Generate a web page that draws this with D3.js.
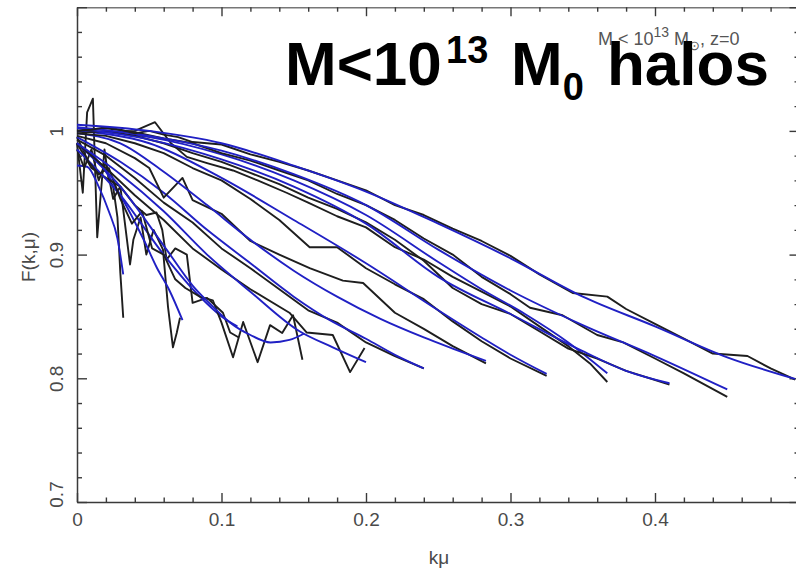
<!DOCTYPE html>
<html><head><meta charset="utf-8">
<script src="https://cdn.jsdelivr.net/npm/d3@7"></script>
<style>html,body{margin:0;padding:0;background:#fff;overflow:hidden}svg{display:block}</style>
</head><body>
<svg id="c" width="796" height="570"></svg>
<script>
// ---- data: [kmu, F] pairs, black = simulation, blue = model ----
const sim1 = [[0,0.99],[0.004,0.95],[0.007,1.015],[0.011,1.026],[0.014,0.914],[0.019,0.985],[0.022,0.96],[0.025,0.955],[0.028,0.93],[0.03,0.885],[0.032,0.849]];
const fit1 = [[0,0.972],[0.007,0.971],[0.015,0.955],[0.022,0.935],[0.028,0.913],[0.032,0.884]];
const sim2 = [[0,0.985],[0.005,0.97],[0.01,0.985],[0.015,0.96],[0.02,0.975],[0.025,0.945],[0.03,0.955],[0.0367,0.892],[0.039,0.912],[0.044,0.93],[0.048,0.9],[0.053,0.92],[0.0595,0.904],[0.063,0.8576],[0.0664,0.825],[0.069,0.8366],[0.0713,0.849]];
const fit2 = [[0,0.99],[0.015,0.975],[0.03,0.948],[0.047,0.91],[0.055,0.89],[0.064,0.871],[0.073,0.847]];
const sim2b = [[0,0.99],[0.01,0.97],[0.02,0.962],[0.03,0.955],[0.04,0.94],[0.048,0.932],[0.055,0.934],[0.059,0.92],[0.062,0.896],[0.068,0.905],[0.076,0.9],[0.08,0.861],[0.09,0.865],[0.101,0.853],[0.106,0.837],[0.112,0.833]];
const fit2b = [[0,0.985],[0.03,0.948],[0.06,0.9],[0.085,0.866],[0.1,0.85],[0.111,0.842]];
const sim3 = [[0,0.995],[0.008,0.975],[0.015,0.965],[0.022,0.97],[0.03,0.945],[0.038,0.925],[0.045,0.935],[0.052,0.905],[0.06,0.9],[0.068,0.88],[0.075,0.873],[0.085,0.866],[0.094,0.863],[0.1,0.845],[0.108,0.817],[0.115,0.8455],[0.125,0.813],[0.1336,0.843],[0.142,0.8366],[0.1495,0.851],[0.156,0.815]];
const fit3 = [[0,0.99],[0.03,0.955],[0.062,0.904],[0.08,0.875],[0.094,0.858],[0.106,0.845],[0.12,0.835],[0.134,0.829],[0.147,0.831],[0.157,0.836]];
const sim4 = [[0,0.99],[0.02,0.97],[0.04,0.948],[0.06,0.928],[0.08,0.905],[0.1,0.888],[0.12,0.872],[0.147,0.853],[0.159,0.837],[0.177,0.835],[0.189,0.805],[0.199,0.8245]];
const fit4 = [[0,0.99],[0.03,0.965],[0.06,0.935],[0.09,0.9],[0.12,0.87],[0.154,0.838],[0.177,0.825],[0.2,0.813]];
const sim5 = [[0,0.993],[0.02,0.98],[0.04,0.962],[0.06,0.942],[0.08,0.926],[0.1,0.905],[0.12,0.889],[0.14,0.872],[0.16,0.855],[0.18,0.845],[0.2,0.829],[0.22,0.818],[0.24,0.808]];
const fit5 = [[0,0.995],[0.03,0.975],[0.06,0.95],[0.09,0.92],[0.12,0.893],[0.15,0.866],[0.175,0.847],[0.2,0.832],[0.22,0.819],[0.24,0.808]];
const sim6 = [[0,0.996],[0.02,0.99],[0.04,0.978],[0.05,0.97],[0.06,0.946],[0.073,0.962],[0.08,0.944],[0.1,0.933],[0.12,0.911],[0.14,0.9],[0.161,0.889],[0.184,0.879],[0.198,0.877],[0.22,0.853],[0.24,0.84],[0.26,0.826],[0.283,0.812]];
const fit6 = [[0,0.998],[0.03,0.99],[0.06,0.967],[0.09,0.94],[0.12,0.912],[0.15,0.887],[0.18,0.866],[0.21,0.848],[0.24,0.833],[0.26,0.824],[0.283,0.814]];
const sim7 = [[0,0.998],[0.02,0.996],[0.04,0.99],[0.06,0.982],[0.08,0.97],[0.1,0.96],[0.12,0.945],[0.14,0.928],[0.161,0.906],[0.18,0.906],[0.2,0.889],[0.22,0.876],[0.24,0.864],[0.26,0.846],[0.28,0.83],[0.3,0.816],[0.325,0.802]];
const fit7 = [[0,1.0],[0.05,0.99],[0.1,0.962],[0.15,0.928],[0.2,0.893],[0.25,0.855],[0.28,0.833],[0.3,0.819],[0.325,0.8035]];
const sim8 = [[0,1.0],[0.02,0.999],[0.04,1.0],[0.054,1.007],[0.065,0.99],[0.076,0.979],[0.09,0.974],[0.108,0.968],[0.125,0.96],[0.145,0.95],[0.16,0.942],[0.18,0.931],[0.2,0.922],[0.22,0.906],[0.24,0.896],[0.26,0.882],[0.28,0.87],[0.3,0.858],[0.32,0.842],[0.34,0.826],[0.355,0.812],[0.367,0.797]];
const fit8 = [[0,1.0],[0.05,0.995],[0.1,0.981],[0.15,0.96],[0.2,0.932],[0.25,0.894],[0.28,0.872],[0.31,0.852],[0.34,0.829],[0.367,0.804]];
const sim9 = [[0,0.998],[0.02,1.0],[0.04,0.996],[0.06,0.99],[0.08,0.982],[0.1,0.975],[0.12,0.966],[0.14,0.957],[0.16,0.946],[0.18,0.937],[0.2,0.926],[0.22,0.912],[0.24,0.895],[0.26,0.873],[0.28,0.86],[0.3,0.852],[0.32,0.838],[0.34,0.824],[0.36,0.816],[0.38,0.806],[0.41,0.795]];
const fit9 = [[0,1.002],[0.05,0.993],[0.1,0.977],[0.15,0.955],[0.2,0.925],[0.25,0.882],[0.3,0.852],[0.35,0.822],[0.38,0.806],[0.41,0.796]];
const sim10 = [[0,1.0],[0.02,1.002],[0.04,0.999],[0.06,0.994],[0.08,0.99],[0.1,0.982],[0.12,0.976],[0.14,0.968],[0.16,0.96],[0.18,0.949],[0.2,0.94],[0.22,0.928],[0.24,0.913],[0.26,0.9],[0.28,0.882],[0.3,0.868],[0.3135,0.857],[0.336,0.851],[0.36,0.835],[0.378,0.829],[0.4,0.816],[0.42,0.804],[0.45,0.785]];
const fit10 = [[0,1.003],[0.05,0.996],[0.1,0.984],[0.15,0.965],[0.2,0.94],[0.25,0.904],[0.3,0.871],[0.35,0.843],[0.4,0.818],[0.45,0.791]];
const sim11 = [[0,1.0],[0.01,1.001],[0.02,1.003],[0.03,1.001],[0.04,0.998],[0.05,1.0],[0.06,0.997],[0.07,0.995],[0.08,0.991],[0.1,0.989],[0.12,0.981],[0.14,0.975],[0.16,0.968],[0.18,0.96],[0.2,0.952],[0.22,0.94],[0.24,0.932],[0.26,0.921],[0.28,0.911],[0.3,0.899],[0.32,0.884],[0.343,0.869],[0.367,0.866],[0.38,0.856],[0.4,0.844],[0.42,0.832],[0.44,0.82],[0.464,0.818],[0.48,0.808],[0.497,0.799]];
const fit11 = [[0,1.005],[0.05,1.0],[0.1,0.99],[0.15,0.972],[0.2,0.951],[0.25,0.925],[0.3,0.897],[0.35,0.866],[0.4,0.842],[0.45,0.817],[0.497,0.7995]];

const simSeries = [sim1, sim2, sim2b, sim3, sim4, sim5, sim6, sim7, sim8, sim9, sim10, sim11];
const fitSeries = [fit1, fit2, fit2b, fit3, fit4, fit5, fit6, fit7, fit8, fit9, fit10, fit11];

const xMajorTicks = [0, 0.1, 0.2, 0.3, 0.4];
const xTickLabels = ["0", "0.1", "0.2", "0.3", "0.4"];
const yMajorTicks = [0.7, 0.8, 0.9, 1.0];
const yTickLabels = ["0.7", "0.8", "0.9", "1"];
const xLabel = "kμ";
const yLabel = "F(k,μ)";

// ---- layout ----
const svg = d3.select("#c");
const x = d3.scaleLinear().domain([0, 0.5]).range([77, 799.5]);
const y = d3.scaleLinear().domain([0.7, 1.1]).range([502, 7.2]);

const xMinor = d3.range(0, 0.5001, 0.02).filter(v => Math.abs(v*10 - Math.round(v*10)) > 1e-6);
const yMinor = d3.range(0.7, 1.1001, 0.02).filter(v => Math.abs(v*10 - Math.round(v*10)) > 1e-6);

const axisColor = "#3a3a3a";
const font = "Liberation Sans, Arial, sans-serif";
function styleAxis(g){
  g.selectAll(".domain").attr("stroke", axisColor).attr("stroke-width", 1.5);
  g.selectAll(".tick line").attr("stroke", axisColor).attr("stroke-width", 1.4);
}
const fmtX = d => xTickLabels[xMajorTicks.findIndex(t => Math.abs(t-d) < 1e-9)];
const fmtY = d => yTickLabels[yMajorTicks.findIndex(t => Math.abs(t-d) < 1e-9)];

// bottom
const gB = svg.append("g").attr("transform", `translate(0,${y(0.7)})`)
  .call(d3.axisBottom(x).tickValues(xMajorTicks.concat([0.5])).tickSizeInner(-9).tickSizeOuter(0).tickPadding(11).tickFormat(d => fmtX(d) || ""));
styleAxis(gB);
gB.selectAll("text").attr("font-family", font).attr("font-size", 19).attr("fill", "#4a4a4a");
svg.append("g").attr("transform", `translate(0,${y(0.7)})`)
  .call(d3.axisBottom(x).tickValues(xMinor).tickSizeInner(-4.5).tickSizeOuter(0).tickFormat(""))
  .call(styleAxis).select(".domain").remove();
// top
svg.append("g").attr("transform", `translate(0,${y(1.1)})`)
  .call(d3.axisTop(x).tickValues(xMajorTicks.concat([0.5])).tickSizeInner(-9).tickSizeOuter(0).tickFormat(""))
  .call(styleAxis).call(g => g.select(".domain").attr("stroke", "#777"));
svg.append("g").attr("transform", `translate(0,${y(1.1)})`)
  .call(d3.axisTop(x).tickValues(xMinor).tickSizeInner(-4.5).tickSizeOuter(0).tickFormat(""))
  .call(styleAxis).select(".domain").remove();
// left
const gL = svg.append("g").attr("transform", `translate(${x(0)},0)`)
  .call(d3.axisLeft(y).tickValues(yMajorTicks.concat([1.1])).tickSizeInner(-10).tickSizeOuter(0).tickFormat(d => fmtY(d) || ""));
styleAxis(gL);
gL.selectAll("text")
  .attr("transform", "rotate(-90)")
  .attr("x", (d) => Math.abs(d-0.7) < 1e-9 ? 8 : 0)
  .attr("y", -14).attr("dy", 0)
  .attr("text-anchor", "middle")
  .attr("font-family", font).attr("font-size", 19).attr("fill", "#4a4a4a");
svg.append("g").attr("transform", `translate(${x(0)},0)`)
  .call(d3.axisLeft(y).tickValues(yMinor).tickSizeInner(-5).tickSizeOuter(0).tickFormat(""))
  .call(styleAxis).select(".domain").remove();
// right
svg.append("g").attr("transform", `translate(${x(0.5)},0)`)
  .call(d3.axisRight(y).tickValues(yMajorTicks.concat([1.1])).tickSizeInner(-10).tickSizeOuter(0).tickFormat(""))
  .call(styleAxis);
svg.append("g").attr("transform", `translate(${x(0.5)},0)`)
  .call(d3.axisRight(y).tickValues(yMinor).tickSizeInner(-5).tickSizeOuter(0).tickFormat(""))
  .call(styleAxis).select(".domain").remove();

// axis titles
svg.append("text").attr("transform", "translate(35,257) rotate(-90)")
  .attr("text-anchor", "middle").attr("font-family", font)
  .attr("font-size", 19).attr("fill", "#4a4a4a").text(yLabel);
svg.append("text").attr("x", 439).attr("y", 564)
  .attr("text-anchor", "middle").attr("font-family", font)
  .attr("font-size", 19).attr("fill", "#4a4a4a").text(xLabel);

// curves
const lineSim = d3.line().x(d => x(d[0])).y(d => y(d[1])).curve(d3.curveLinear);
const lineFit = d3.line().x(d => x(d[0])).y(d => y(d[1])).curve(d3.curveMonotoneX);
const gC = svg.append("g");
simSeries.forEach((s, i) => {
  gC.append("path").attr("d", lineSim(s)).attr("fill", "none")
    .attr("stroke", "#1e1e1e").attr("stroke-width", 1.9).attr("stroke-linejoin", "round");
  gC.append("path").attr("d", lineFit(fitSeries[i])).attr("fill", "none")
    .attr("stroke", "#2020c4").attr("stroke-width", 1.9);
});

// small label (partly hidden behind the big title, as in the reference)
const sl = svg.append("text").attr("x", 598).attr("y", 45)
  .attr("font-family", font).attr("font-size", 18).attr("fill", "#555");
sl.append("tspan").text("M < 10");
sl.append("tspan").attr("font-size", 14).attr("dy", -8).text("13");
sl.append("tspan").attr("dy", 8).text(" M");
sl.append("tspan").attr("font-size", 13).attr("dy", 5).text("⊙");
sl.append("tspan").attr("dy", -5).text(", z=0");

// big title
const bt = svg.append("text").attr("x", 285).attr("y", 85)
  .attr("font-family", font).attr("font-weight", "bold")
  .attr("font-size", 62).attr("fill", "#000");
bt.append("tspan").text("M<10");
bt.append("tspan").attr("x", 446).attr("dy", -22).attr("font-size", 38).text("13");
bt.append("tspan").attr("x", 511).attr("dy", 22).text("M");
bt.append("tspan").attr("dy", 15).attr("font-size", 38).text("0");
bt.append("tspan").attr("x", 607).attr("dy", -15).text("halos");
</script>
</body></html>
